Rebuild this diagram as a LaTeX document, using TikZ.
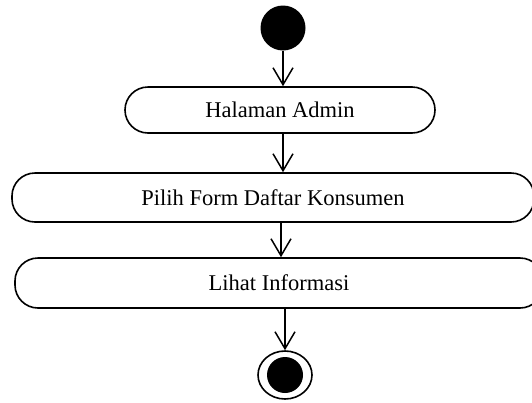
\documentclass[tikz,border=0pt]{standalone}
\usepackage{fontspec}
\setmainfont{Liberation Serif}
\usepackage{tikz}
\usetikzlibrary{arrows.meta,shapes.geometric}

\tikzset{
    activity/.style={draw, line width=1.6pt, rounded corners=23pt, minimum height=48pt,
        font=\fontsize{22.5pt}{26pt}\selectfont},
    arr/.style={line width=1.5pt, -{Straight Barb[length=17pt,width=20pt,line width=1.5pt]}}
}

\begin{document}
\begin{tikzpicture}[x=1pt, y=-1pt]

    % Frame
    \clip (0,0) rectangle (532,402);

    % Start
    \node[circle, fill=black, minimum size=45pt, inner sep=0pt] (start) at (283,28) {};

    % Activities
    \node[activity, minimum width=310pt, minimum height=46pt] (halaman) at (280,110) {Halaman Admin};
    \node[activity, minimum width=522pt, minimum height=49pt] (pilih) at (273,197.5) {Pilih Form Daftar Konsumen};
    \node[activity, minimum width=528pt, minimum height=50pt] (lihat) at (279,283) {Lihat Informasi};

    % End
    \node[ellipse, draw, line width=1.6pt, minimum width=54pt, minimum height=48pt, inner sep=0pt] (stop) at (285,375) {};
    \fill (stop) circle (18pt);

    % Flow
    \draw[arr] (start) -- (start |- halaman.north);
    \draw[arr] (halaman.south -| start) -- (pilih.north -| start);
    \draw[arr] ([xshift=-2pt]pilih.south -| start) -- ([xshift=-2pt]lihat.north -| start);
    \draw[arr] (lihat.south -| stop) -- (stop.north);
\end{tikzpicture}
\end{document}
